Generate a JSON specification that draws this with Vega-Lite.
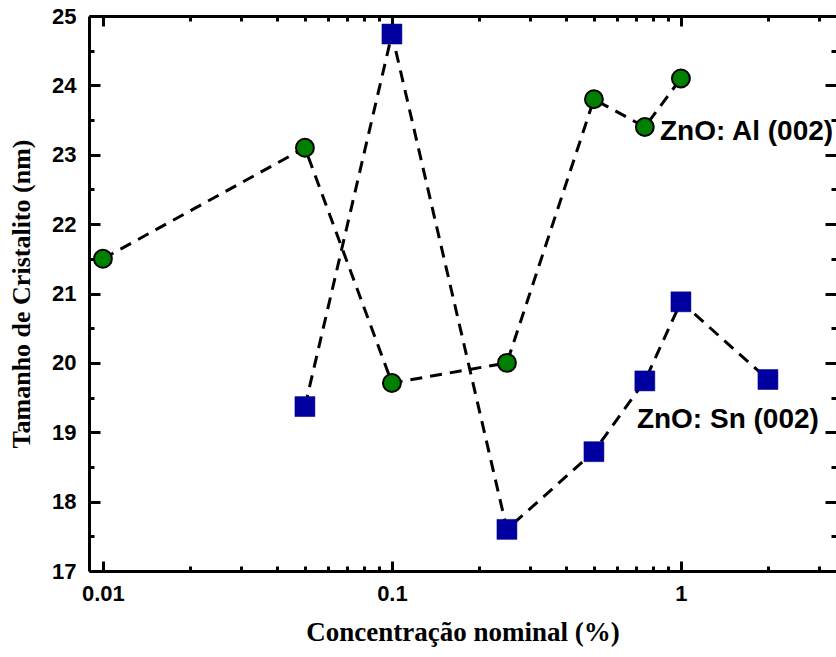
{
  "$schema": "https://vega.github.io/schema/vega-lite/v6.json",
  "width": 747,
  "height": 555,
  "autosize": {"type": "none"},
  "padding": {"left": 89, "top": 16, "right": 0, "bottom": 86},
  "background": "white",
  "config": {"view": {"stroke": null}, "axis": {"grid": false, "tickColor": "black", "tickWidth": 3, "domainColor": "black", "domainWidth": 3}},
  "datasets": {
    "pts": [
      {"serie": "Al", "conc": 0.01, "tam": 21.5},
      {"serie": "Al", "conc": 0.05, "tam": 23.1},
      {"serie": "Al", "conc": 0.1, "tam": 19.71},
      {"serie": "Al", "conc": 0.25, "tam": 20.0},
      {"serie": "Al", "conc": 0.5, "tam": 23.8},
      {"serie": "Al", "conc": 0.75, "tam": 23.4},
      {"serie": "Al", "conc": 1, "tam": 24.1},
      {"serie": "Sn", "conc": 0.05, "tam": 19.37},
      {"serie": "Sn", "conc": 0.1, "tam": 24.74},
      {"serie": "Sn", "conc": 0.25, "tam": 17.6},
      {"serie": "Sn", "conc": 0.5, "tam": 18.72},
      {"serie": "Sn", "conc": 0.75, "tam": 19.74},
      {"serie": "Sn", "conc": 1, "tam": 20.88},
      {"serie": "Sn", "conc": 2, "tam": 19.76}
    ],
    "notes": [
      {"label": "ZnO: Al (002)", "conc": 0.846, "tam": 23.33},
      {"label": "ZnO: Sn (002)", "conc": 0.704, "tam": 19.18}
    ]
  },
  "layer": [
    {
      "data": {"name": "pts"},
      "transform": [{"filter": "datum.serie === 'Al'"}],
      "mark": {"type": "line", "strokeDash": [12, 8], "strokeWidth": 3, "color": "black"},
      "encoding": {
        "x": {
          "field": "conc", "type": "quantitative",
          "scale": {"type": "log", "domain": [0.00895, 3.44], "nice": false},
          "axis": {
            "orient": "bottom",
            "values": [0.01, 0.1, 1],
            "format": "~g",
            "tickSize": -10,
            "labelFont": "Liberation Sans", "labelFontWeight": "bold", "labelFontSize": 22, "labelColor": "black",
            "labelPadding": 22, "labelFlush": false, "labelOverlap": false,
            "title": "Concentração nominal (%)",
            "titleFont": "Liberation Serif", "titleFontSize": 27, "titleFontWeight": "bold", "titleColor": "black",
            "titlePadding": 15
          }
        },
        "y": {
          "field": "tam", "type": "quantitative",
          "scale": {"domain": [17, 25], "zero": false, "nice": false},
          "axis": {
            "orient": "left",
            "values": [17, 18, 19, 20, 21, 22, 23, 24, 25],
            "format": "d",
            "tickSize": -11,
            "labelFont": "Liberation Sans", "labelFontWeight": "bold", "labelFontSize": 22, "labelColor": "black",
            "labelPadding": 24, "labelFlush": false, "labelOverlap": false,
            "title": "Tamanho de Cristalito (nm)",
            "titleFont": "Liberation Serif", "titleFontSize": 26, "titleFontWeight": "bold", "titleColor": "black",
            "titlePadding": 17
          }
        }
      }
    },
    {
      "data": {"name": "pts"},
      "transform": [{"filter": "datum.serie === 'Sn'"}],
      "mark": {"type": "line", "strokeDash": [12, 8], "strokeWidth": 3, "color": "black"},
      "encoding": {
        "x": {
          "field": "conc", "type": "quantitative",
          "axis": {"orient": "top", "values": [0.01, 0.1, 1], "labels": false, "tickSize": -10, "title": null}
        },
        "y": {
          "field": "tam", "type": "quantitative",
          "axis": {"orient": "right", "values": [17, 18, 19, 20, 21, 22, 23, 24, 25], "labels": false, "tickSize": -11, "domain": false, "title": null}
        }
      }
    },
    {
      "data": {"name": "pts"},
      "transform": [{"filter": "datum.serie === 'Al'"}],
      "mark": {"type": "point", "shape": "circle", "filled": true, "fill": "#008000", "stroke": "black", "strokeWidth": 2, "size": 320, "opacity": 1},
      "encoding": {
        "x": {
          "field": "conc", "type": "quantitative",
          "axis": {"orient": "bottom", "values": [0.02, 0.03, 0.04, 0.05, 0.06, 0.07, 0.08, 0.09, 0.2, 0.3, 0.4, 0.5, 0.6, 0.7, 0.8, 0.9, 2, 3], "labels": false, "tickSize": -5, "domain": false, "title": null}
        },
        "y": {
          "field": "tam", "type": "quantitative",
          "axis": {"orient": "left", "values": [17.5, 18.5, 19.5, 20.5, 21.5, 22.5, 23.5, 24.5], "labels": false, "tickSize": -5, "domain": false, "title": null}
        }
      }
    },
    {
      "data": {"name": "pts"},
      "transform": [{"filter": "datum.serie === 'Sn'"}],
      "mark": {"type": "point", "shape": "square", "filled": true, "fill": "#0000a0", "stroke": "#00007a", "strokeWidth": 0.5, "size": 400, "opacity": 1},
      "encoding": {
        "x": {
          "field": "conc", "type": "quantitative",
          "axis": {"orient": "top", "values": [0.02, 0.03, 0.04, 0.05, 0.06, 0.07, 0.08, 0.09, 0.2, 0.3, 0.4, 0.5, 0.6, 0.7, 0.8, 0.9, 2, 3], "labels": false, "tickSize": -5, "domain": false, "title": null}
        },
        "y": {
          "field": "tam", "type": "quantitative",
          "axis": {"orient": "right", "values": [17.5, 18.5, 19.5, 20.5, 21.5, 22.5, 23.5, 24.5], "labels": false, "tickSize": -5, "domain": false, "title": null}
        }
      }
    },
    {
      "data": {"name": "notes"},
      "mark": {"type": "text", "align": "left", "baseline": "middle", "font": "Liberation Sans", "fontWeight": "bold", "fontSize": 28, "color": "black"},
      "encoding": {
        "x": {"field": "conc", "type": "quantitative", "axis": null},
        "y": {"field": "tam", "type": "quantitative", "axis": null},
        "text": {"field": "label"}
      }
    }
  ],
  "resolve": {"axis": {"x": "independent", "y": "independent"}}
}
